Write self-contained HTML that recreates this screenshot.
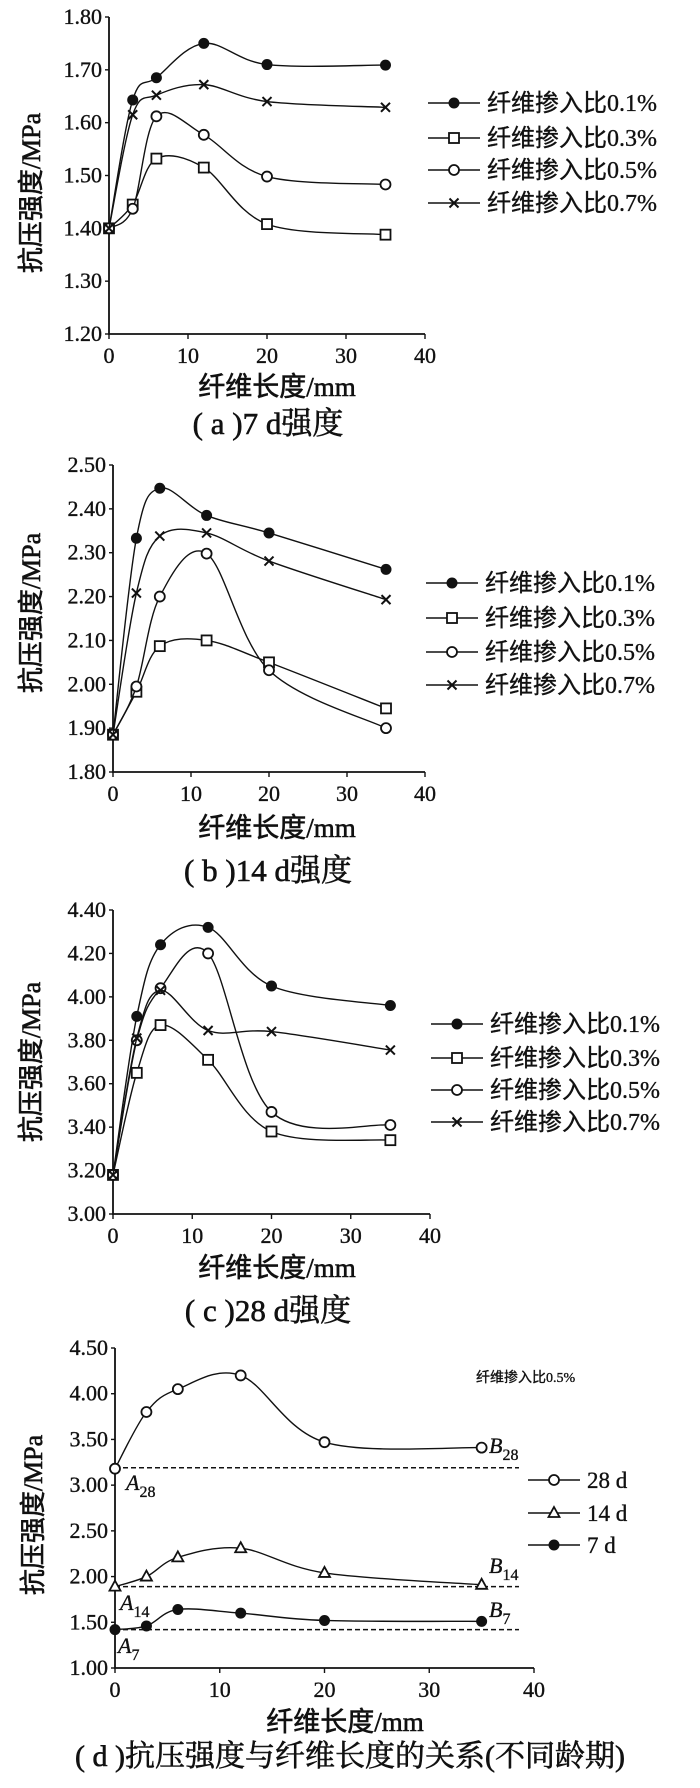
<!DOCTYPE html>
<html><head><meta charset="utf-8"><style>
html,body{margin:0;padding:0;background:#fff}
svg{display:block}
text{font-family:"Liberation Serif","Noto Serif CJK SC",serif;fill:#111;stroke:#111;stroke-width:0.35px}
.cjk{font-family:"Liberation Serif","Noto Sans CJK SC",sans-serif}
.heavy{stroke-width:0.6px}
</style></head><body>
<svg id="root" width="700" height="1788" viewBox="0 0 700 1788" xmlns="http://www.w3.org/2000/svg"></svg>
<script>
const xCats = [0, 3, 6, 12, 20, 35];
const xTicks = [0, 10, 20, 30, 40];
const legendLabels = ["纤维掺入比0.1%", "纤维掺入比0.3%", "纤维掺入比0.5%", "纤维掺入比0.7%"];
const a01 = [1.40, 1.643, 1.685, 1.750, 1.710, 1.709];
const a03 = [1.40, 1.445, 1.532, 1.515, 1.408, 1.388];
const a05 = [1.40, 1.437, 1.612, 1.577, 1.498, 1.483];
const a07 = [1.40, 1.615, 1.652, 1.672, 1.640, 1.629];
const aTicks = ["1.20","1.30","1.40","1.50","1.60","1.70","1.80"];
const b01 = [1.885, 2.333, 2.447, 2.385, 2.345, 2.262];
const b03 = [1.885, 1.983, 2.087, 2.100, 2.050, 1.945];
const b05 = [1.885, 1.995, 2.200, 2.298, 2.032, 1.900];
const b07 = [1.885, 2.208, 2.338, 2.345, 2.281, 2.193];
const bTicks = ["1.80","1.90","2.00","2.10","2.20","2.30","2.40","2.50"];
const c01 = [3.18, 3.91, 4.24, 4.32, 4.05, 3.96];
const c03 = [3.18, 3.65, 3.87, 3.71, 3.38, 3.34];
const c05 = [3.18, 3.80, 4.04, 4.20, 3.47, 3.41];
const c07 = [3.18, 3.81, 4.03, 3.845, 3.84, 3.755];
const cTicks = ["3.00","3.20","3.40","3.60","3.80","4.00","4.20","4.40"];
const d28 = [3.18, 3.80, 4.05, 4.20, 3.47, 3.41];
const d14 = [1.89, 2.00, 2.21, 2.31, 2.04, 1.91];
const d7 = [1.42, 1.46, 1.64, 1.60, 1.52, 1.51];
const dBase = [3.19, 1.89, 1.42];
const dTicks = ["1.00","1.50","2.00","2.50","3.00","3.50","4.00","4.50"];
const dLegend = ["28 d", "14 d", "7 d"];

const NS = "http://www.w3.org/2000/svg";
const root = document.getElementById("root");
function el(tag, attrs, parent, txt) {
  const e = document.createElementNS(NS, tag);
  for (const k in attrs) e.setAttribute(k, attrs[k]);
  if (txt !== undefined) e.textContent = txt;
  (parent || root).appendChild(e);
  return e;
}
function spline(pts) {
  let d = "M" + pts[0][0] + "," + pts[0][1];
  for (let i = 0; i < pts.length - 1; i++) {
    const p0 = pts[Math.max(0, i - 1)], p1 = pts[i], p2 = pts[i + 1], p3 = pts[Math.min(pts.length - 1, i + 2)];
    const t = 1 / 3;
    const c1x = p1[0] + (p2[0] - p0[0]) * t / 2, c1y = p1[1] + (p2[1] - p0[1]) * t / 2;
    const c2x = p2[0] - (p3[0] - p1[0]) * t / 2, c2y = p2[1] - (p3[1] - p1[1]) * t / 2;
    d += " C" + c1x + "," + c1y + " " + c2x + "," + c2y + " " + p2[0] + "," + p2[1];
  }
  return d;
}
function marker(g, type, x, y) {
  let m;
  if (type === "dot") m = el("circle", {cx: x, cy: y, r: 5.5, fill: "#111"}, g);
  else if (type === "square") m = el("rect", {x: x - 5, y: y - 5, width: 10, height: 10, fill: "#fff", stroke: "#111", "stroke-width": 1.8}, g);
  else if (type === "circle") m = el("circle", {cx: x, cy: y, r: 5, fill: "#fff", stroke: "#111", "stroke-width": 1.8}, g);
  else if (type === "tri") m = el("path", {d: `M${x},${y-6} L${x+5.5},${y+4} L${x-5.5},${y+4} Z`, fill: "#fff", stroke: "#111", "stroke-width": 1.8}, g);
  else m = el("path", {d: `M${x-4.5},${y-4.5} L${x+4.5},${y+4.5} M${x+4.5},${y-4.5} L${x-4.5},${y+4.5}`, stroke: "#111", "stroke-width": 2}, g);
  return m;
}
function chart(cfg) {
  const g = el("g", {});
  
  
  const ymin = parseFloat(cfg.ticks[0]), ymax = parseFloat(cfg.ticks[cfg.ticks.length - 1]);
  const X = v => cfg.x0 + (v - 0) / 40 * (cfg.x1 - cfg.x0);
  const Y = v => cfg.yb - (v - ymin) / (ymax - ymin) * (cfg.yb - cfg.yt);
  const ax = el("path", {d: `M${cfg.x0},${cfg.yt} L${cfg.x0},${cfg.yb} L${cfg.x1},${cfg.yb}`, fill: "none", stroke: "#111", "stroke-width": 1.8}, g);
  
  
  cfg.ticks.forEach(t => {
    const y = Y(parseFloat(t));
    el("line", {x1: cfg.x0 - 4, x2: cfg.x0, y1: y, y2: y, stroke: "#111", "stroke-width": 1.4}, g);
    const tx = el("text", {x: cfg.x0 - 7, y: y + 7, "font-size": 22, "text-anchor": "end"}, g, t);
    
    
  });
  xTicks.forEach(t => {
    const x = X(t);
    el("line", {x1: x, x2: x, y1: cfg.yb, y2: cfg.yb + 5, stroke: "#111", "stroke-width": 1.4}, g);
    const tx = el("text", {x: x, y: cfg.yb + 29, "font-size": 22, "text-anchor": "middle"}, g, String(t));
    
    
  });
  const yt = el("text", {x: 0, y: 0, "font-size": 26, "text-anchor": "middle", transform: `translate(${cfg.ytx},${cfg.yty}) rotate(-90)`, class: "cjk heavy"}, g, "抗压强度/MPa");
  
  
  const xt = el("text", {x: cfg.xtx, y: cfg.xty, "font-size": 27, "text-anchor": "middle", class: "cjk heavy"}, g, "纤维长度/mm");
  
  
  const cap = el("text", {x: cfg.capx, y: cfg.capy, "font-size": cfg.capSize || 31, "text-anchor": "middle", class: "heavy"}, g, cfg.caption);
  
  
  (cfg.base || []).forEach(v => {
    const ln = el("line", {x1: cfg.x0, x2: cfg.baseEnd, y1: Y(v), y2: Y(v), stroke: "#111", "stroke-width": 1.5, "stroke-dasharray": "5,3"}, g);
    
    
  });
  cfg.series.forEach((s, i) => {
    const pts = xCats.map((c, j) => [X(c), Y(s.data[j])]);
    const p = el("path", {d: spline(pts), fill: "none", stroke: "#111", "stroke-width": 1.4}, g);
    
    
    pts.forEach(pt => {
      const m = marker(g, s.m, pt[0], pt[1]);
      
      
    });
    const ly = cfg.legY[i];
    const lg = el("g", {}, g);
    
    
    el("line", {x1: cfg.legX0, x2: cfg.legX1, y1: ly, y2: ly, stroke: "#111", "stroke-width": 1.4}, lg);
    marker(lg, s.m, (cfg.legX0 + cfg.legX1) / 2, ly);
    el("text", {x: cfg.legX1 + 7, y: ly + 8, "font-size": cfg.legSize || 24, class: "cjk"}, lg, s.label);
  });
  return {g, X, Y};
}
chart({name: "chart-7d", x0: 109, x1: 425, yt: 17, yb: 334, ticks: aTicks, ytx: 40, yty: 193, xtx: 277, xty: 396, capx: 268, capy: 434, caption: "( a )7 d强度",
  legX0: 428, legX1: 480, legY: [103, 138, 170, 203],
  series: [{data: a01, m: "dot", label: legendLabels[0]}, {data: a03, m: "square", label: legendLabels[1]}, {data: a05, m: "circle", label: legendLabels[2]}, {data: a07, m: "x", label: legendLabels[3]}]});
chart({name: "chart-14d", x0: 113, x1: 425, yt: 465, yb: 772, ticks: bTicks, ytx: 40, yty: 613, xtx: 277, xty: 837, capx: 268, capy: 881, caption: "( b )14 d强度",
  legX0: 426, legX1: 478, legY: [583, 618, 652, 685],
  series: [{data: b01, m: "dot", label: legendLabels[0]}, {data: b03, m: "square", label: legendLabels[1]}, {data: b05, m: "circle", label: legendLabels[2]}, {data: b07, m: "x", label: legendLabels[3]}]});
chart({name: "chart-28d", x0: 113, x1: 430, yt: 910, yb: 1214, ticks: cTicks, ytx: 40, yty: 1062, xtx: 277, xty: 1277, capx: 268, capy: 1321, caption: "( c )28 d强度",
  legX0: 431, legX1: 483, legY: [1024, 1058, 1090, 1122],
  series: [{data: c01, m: "dot", label: legendLabels[0]}, {data: c03, m: "square", label: legendLabels[1]}, {data: c05, m: "circle", label: legendLabels[2]}, {data: c07, m: "x", label: legendLabels[3]}]});
const dd = chart({name: "chart-ages", x0: 115, x1: 534, yt: 1348, yb: 1668, ticks: dTicks, ytx: 42, yty: 1515, xtx: 345, xty: 1731, capx: 350, capy: 1766, capSize: 30, caption: "( d )抗压强度与纤维长度的关系(不同龄期)",
  base: dBase, baseEnd: 519, legX0: 528, legX1: 580, legY: [1480, 1513, 1545], legSize: 23,
  series: [{data: d28, m: "circle", label: dLegend[0]}, {data: d14, m: "tri", label: dLegend[1]}, {data: d7, m: "dot", label: dLegend[2]}]});
const note = el("text", {x: 476, y: 1382, "font-size": 14, class: "cjk"}, null, "纤维掺入比0.5%");


const labs = [["A", "28", 126, 1490], ["B", "28", 489, 1453], ["A", "14", 120, 1610], ["B", "14", 489, 1573], ["A", "7", 118, 1653], ["B", "7", 489, 1617]];
labs.forEach(l => {
  const t = el("text", {x: l[2], y: l[3], "font-size": 22, "font-style": "italic"}, null);
  
  
  el("tspan", {}, t, l[0]);
  el("tspan", {dy: 7, "font-size": 16, "font-style": "normal"}, t, l[1]);
});
</script>
</body></html>
